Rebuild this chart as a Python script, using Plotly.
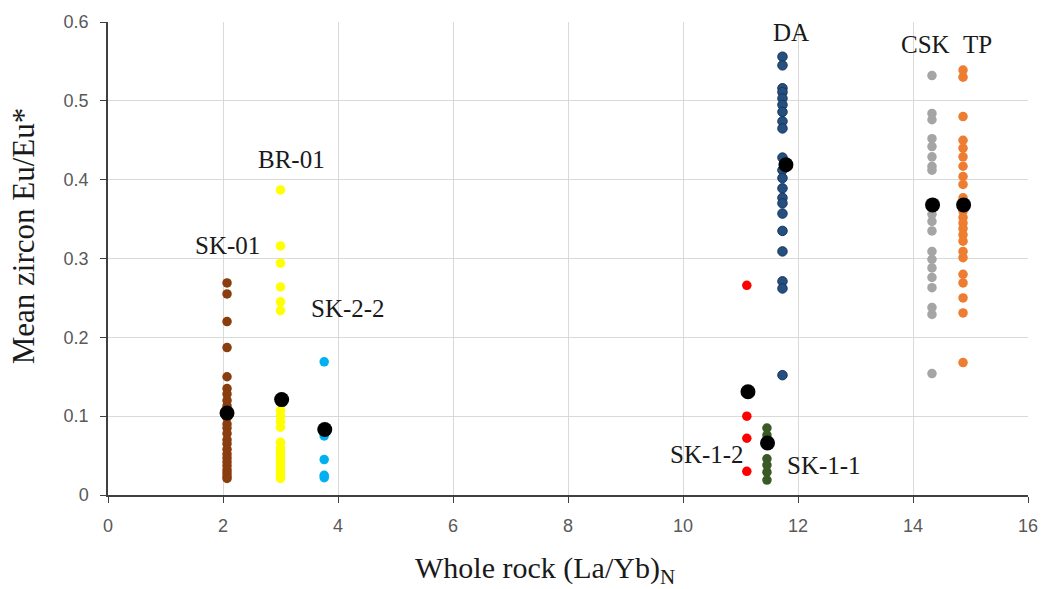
import plotly.graph_objects as go

# ---- data ----
sk01_x = 2.07
sk01_y = [0.269, 0.255, 0.220, 0.187, 0.150, 0.135, 0.128, 0.120, 0.113, 0.105, 0.098,
          0.090, 0.085, 0.078, 0.070, 0.065, 0.058, 0.052, 0.047, 0.042, 0.037, 0.032,
          0.028, 0.024, 0.021]
br01_x = 3.0
br01_y = [0.387, 0.316, 0.294, 0.264, 0.245, 0.234, 0.107, 0.100, 0.093, 0.086, 0.067,
          0.060, 0.055, 0.050, 0.045, 0.040, 0.035, 0.030, 0.025, 0.021]
sk22_x = 3.76
sk22_y = [0.169, 0.075, 0.045, 0.025, 0.022]
sk12_x = 11.11
sk12_y = [0.266, 0.100, 0.072, 0.030]
sk11_x = 11.46
sk11_y = [0.085, 0.076, 0.046, 0.038, 0.029, 0.019]
da_x = 11.73
da_y = [0.556, 0.545, 0.516, 0.511, 0.503, 0.495, 0.486, 0.474, 0.465, 0.428, 0.412,
        0.402, 0.389, 0.377, 0.370, 0.357, 0.335, 0.309, 0.271, 0.262, 0.152]
csk_x = 14.33
csk_y = [0.532, 0.484, 0.476, 0.452, 0.442, 0.429, 0.417, 0.412, 0.356, 0.347, 0.335,
         0.309, 0.299, 0.288, 0.276, 0.263, 0.238, 0.229, 0.154]
tp_x = 14.87
tp_y = [0.539, 0.530, 0.480, 0.450, 0.440, 0.429, 0.417, 0.404, 0.394, 0.377, 0.360,
        0.352, 0.345, 0.338, 0.330, 0.322, 0.309, 0.301, 0.280, 0.269, 0.250, 0.231, 0.168]

mean_x = [2.07, 3.02, 3.77, 11.13, 11.47, 11.79, 14.34, 14.88]
mean_y = [0.104, 0.121, 0.083, 0.131, 0.066, 0.419, 0.368, 0.368]

labels = ["SK-01", "BR-01", "SK-2-2", "SK-1-2", "SK-1-1", "DA", "CSK", "TP"]
label_x = [2.07, 3.19, 4.17, 10.42, 12.45, 11.88, 14.22, 15.12]
label_y = [0.316, 0.425, 0.236, 0.052, 0.037, 0.587, 0.571, 0.571]

x_title = "Whole rock (La/Yb)<sub>N</sub>"
y_title = "Mean zircon Eu/Eu*"

series = [
    ("SK-01", sk01_x, sk01_y, "#8a3d0e", None),
    ("BR-01", br01_x, br01_y, "#ffff00", None),
    ("SK-2-2", sk22_x, sk22_y, "#00b0f0", None),
    ("SK-1-2", sk12_x, sk12_y, "#ff0000", None),
    ("SK-1-1", sk11_x, sk11_y, "#3a5a25", None),
    ("DA", da_x, da_y, "#24507f", "#1a3358"),
    ("CSK", csk_x, csk_y, "#a5a5a5", None),
    ("TP", tp_x, tp_y, "#ed7d31", None),
]

fig = go.Figure()
for name, x, ys, col, lc in series:
    fig.add_trace(go.Scatter(
        x=[x] * len(ys), y=ys, mode="markers", name=name,
        marker=dict(size=9.5, color=col,
                    line=dict(width=1 if lc else 0, color=lc or col)),
    ))

fig.add_trace(go.Scatter(
    x=mean_x, y=mean_y, mode="markers", name="Mean",
    marker=dict(size=15, color="#000000"),
))

for t, x, y in zip(labels, label_x, label_y):
    fig.add_annotation(x=x, y=y, text=t, showarrow=False,
                       font=dict(family="Liberation Serif", size=25, color="#1a1a1a"))

# axis titles (annotations, to match the reference's off-centre positions)
fig.add_annotation(xref="paper", yref="paper", x=0.4746, y=0, yshift=-75,
                   xanchor="center", yanchor="middle", showarrow=False,
                   text=x_title,
                   font=dict(family="Liberation Serif", size=30, color="#1a1a1a"))
fig.add_annotation(xref="paper", yref="paper", x=0, xshift=-85, y=0.547,
                   xanchor="center", yanchor="middle", showarrow=False,
                   textangle=-90, text=y_title,
                   font=dict(family="Liberation Serif", size=31, color="#1a1a1a"))

fig.update_layout(
    width=1050, height=589,
    margin=dict(l=108, r=15, t=20, b=94),
    plot_bgcolor="white", paper_bgcolor="white",
    showlegend=False,
)
fig.update_xaxes(
    range=[0, 16], dtick=2, tick0=0,
    showgrid=True, gridcolor="#d9d9d9", gridwidth=1,
    showline=True, linecolor="#404040", linewidth=1.5,
    ticks="outside", ticklen=6, tickcolor="#404040",
    ticklabelstandoff=8, ticklabeloverflow="allow",
    zeroline=False,
    tickfont=dict(family="Liberation Sans", size=18, color="#595959"),
)
fig.update_yaxes(
    range=[0, 0.6], dtick=0.1, tick0=0,
    showgrid=True, gridcolor="#d9d9d9", gridwidth=1,
    showline=True, linecolor="#404040", linewidth=1.5,
    ticks="outside", ticklen=6, tickcolor="#404040",
    ticklabelstandoff=8,
    zeroline=False,
    tickformat="~g",
    tickfont=dict(family="Liberation Sans", size=18, color="#595959"),
)

# remove the default 8px page margin so the 1050x589 figure fills the window
fig.write_html("out.html", config={"displayModeBar": False},
               post_script="document.body.style.margin='0';")
